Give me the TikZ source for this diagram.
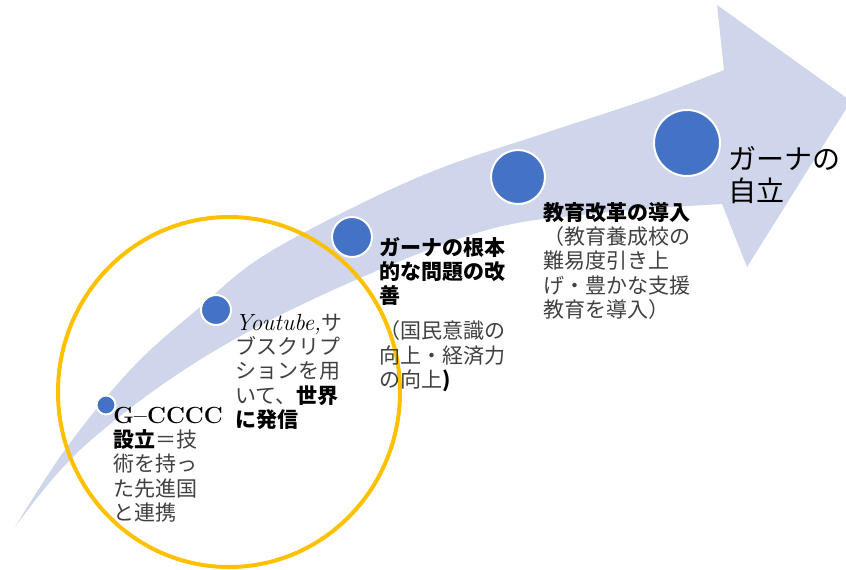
\documentclass[tikz,border=0pt]{standalone}
\usepackage{fontspec}
\newfontfamily\jp{Noto Sans CJK JP}
\definecolor{band}{HTML}{CFD5EA}
\definecolor{dot}{HTML}{4472C4}
\definecolor{ring}{HTML}{FFC000}
\definecolor{txt}{HTML}{404040}
\newcommand\kbold[1]{{\color{black}\bfseries #1}}
\newcommand\latn[1]{{\rmfamily\fontsize{17.5pt}{18.3pt}\selectfont #1}}
\begin{document}
\begin{tikzpicture}[x=0.75pt,y=-0.75pt,
  dotnode/.style={circle,fill=dot,draw=white,line width=1.5pt,inner sep=0pt},
  lbl/.style={anchor=base west,align=left,inner sep=0pt,text=txt,font=\jp\fontsize{15.75pt}{18.3pt}\selectfont},
  big/.style={anchor=base west,align=left,inner sep=0pt,text=black,font=\jp\fontsize{21pt}{24pt}\selectfont}]
\useasboundingbox (0,0) rectangle (846,569);
\clip (0,0) rectangle (846,569);
\fill[band] plot[smooth,tension=0.6] coordinates {(15,527) (67,447) (133,367) (200,307) (260,258) (352,208) (441,168) (545,133) (648,99) (724,70)}
  -- (717,5) -- (851,101) -- (747,267) -- (722,204)
  -- plot[smooth,tension=0.6] coordinates {(722,204) (600,213) (480,232) (320,296) (190,366) (80,450) (15,527)} -- cycle;
\draw[ring,line width=3pt] (229,392) ellipse [x radius=171,y radius=175];
\node[dotnode,minimum size=14.25pt] (d1) at (106,405) {};
\node[dotnode,minimum size=22.5pt] (d2) at (216,310) {};
\node[dotnode,minimum size=30pt] (d3) at (352,237) {};
\node[dotnode,minimum size=40.5pt] (d4) at (518,177) {};
\node[dotnode,minimum size=49.5pt] (d5) at (687,143) {};
% base anchor = baseline of the last line
\node[lbl] (t1) at (113,520.6) {\kbold{\latn{G–CCCC}}\\\kbold{設立}＝技\\術を持っ\\た先進国\\と連携};
\node[lbl] (t2) at (235,427.6) {{\color{black}\latn{\itshape Youtube,}}サ\\ブスクリプ\\ションを用\\いて、\kbold{世界}\\\kbold{に発信}};
\node[lbl] (t3) at (379,387.7) {\kbold{ガーナの根本}\\\kbold{的な問題の改}\\\kbold{善}\\[8pt]（国民意識の\\向上・経済力\\の向上\kbold{)}};
\node[lbl] (t4) at (543,317.6) {\kbold{教育改革の導入}\\（教育養成校の\\難易度引き上\\げ・豊かな支援\\教育を導入）};
\node[big] (t5) at (728,201) {ガーナの\\自立};
\end{tikzpicture}
\end{document}
